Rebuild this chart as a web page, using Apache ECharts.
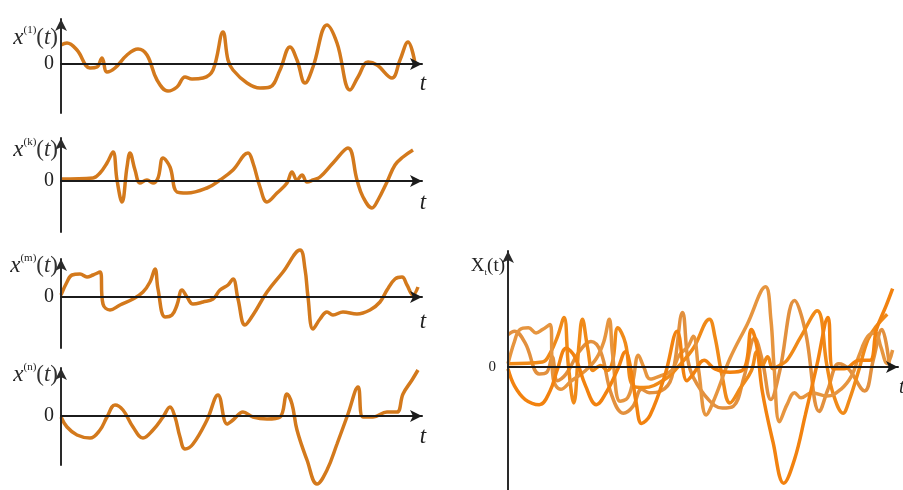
<!DOCTYPE html>
<html>
<head>
<meta charset="utf-8">
<script src="https://cdn.jsdelivr.net/npm/echarts@6/dist/echarts.min.js"></script>
<style>
html,body{margin:0;padding:0;background:#fff;}
#chart{width:903px;height:490px;}
</style>
</head>
<body>
<div id="chart"></div>
<script>
// ---- data (t = time, v = signal value) ----
const curve1T = [0,6,16,29,36,41,46,54,66,77,86,96,107,116,124,131,142,152,162,167,172,186,199,209,219,229,236,244,252,266,276,289,297,307,316,331,339,347,354];
const curve1V = [19,21,14,-4,-3,6,-8,-4,9,15,9,-16,-27,-23,-13,-15,-14,-6,32,4,-6,-19,-24,-23,-6,17,4,-19,-3,39,21,-26,-13,2,-1,-14,4,22,1];

const curve2T = [0,32,39,46,52,56,61,66,69,74,79,86,92,97,102,109,116,126,146,159,172,187,192,199,206,216,226,231,236,241,246,252,259,272,287,296,302,311,317,326,334,342,352];
const curve2V = [2,3,8,18,29,1,-21,14,28,11,-2,1,-2,3,23,14,-11,-12,-7,1,11,28,18,-6,-21,-12,-2,9,1,6,-1,1,4,18,33,1,-16,-27,-19,-1,16,24,31];

const curve3T = [0,6,11,19,26,32,39,42,49,59,72,82,89,94,97,104,111,116,121,126,132,142,152,159,167,172,177,184,192,206,222,239,244,247,252,259,266,272,282,296,309,319,326,334,341,346,352,357];
const curve3V = [2,15,22,23,20,22,25,-7,-13,-8,-2,5,15,28,8,-20,-18,-8,7,0,-7,-5,-2,7,12,18,-2,-28,-18,5,25,47,28,0,-32,-22,-15,-18,-15,-17,-13,-5,7,18,20,12,2,10];

const curve4T = [0,6,16,29,39,46,54,62,72,82,92,102,109,114,119,124,132,146,157,166,172,182,192,206,219,226,231,236,246,256,266,276,287,297,302,312,326,336,342,351,357];
const curve4V = [-1,-11,-19,-22,-14,-1,11,6,-11,-22,-14,-1,9,-1,-21,-33,-28,-4,21,-8,-4,4,-1,-3,-1,22,12,-14,-44,-68,-54,-28,2,29,-1,-1,4,4,22,36,46];

const panelSup = ['(1)', '(k)', '(m)', '(n)'];
const zeroLabel = '0';
const timeLabel = 't';
// --------------------------------------------

const curvesT = [curve1T, curve2T, curve3T, curve4T];
const curvesV = [curve1V, curve2V, curve3V, curve4V];
const pairs = (ts, vs) => ts.map((t, i) => [t, vs[i]]);

const serif = '"Liberation Serif", "DejaVu Serif", serif';
const axisColor = '#1b1b1b';

// left panel geometry
const leftPanels = [
  {top: 19,  height: 94, max: 45, min: -49, labelY: 38,  tY: 84},
  {top: 138, height: 94, max: 43, min: -51, labelY: 150, tY: 203},
  {top: 259, height: 89, max: 38, min: -51, labelY: 266, tY: 322},
  {top: 368, height: 97, max: 48, min: -49, labelY: 375, tY: 437}
];
const leftX = 61, leftW = 361, leftXMax = 361;

const grid = [], xAxis = [], yAxis = [], series = [], graphic = [];

function addAxes(idx, g, xmax, ymin, ymax, labelFont, labelMargin) {
  grid.push(g);
  xAxis.push({
    gridIndex: idx, type: 'value', min: 0, max: xmax, z: 5,
    axisLine: {show: true, onZero: true, symbol: ['none', 'arrow'], symbolSize: [9, 12],
               lineStyle: {color: axisColor, width: 2}},
    axisTick: {show: false}, axisLabel: {show: false}, splitLine: {show: false}
  });
  yAxis.push({
    gridIndex: idx, type: 'value', min: ymin, max: ymax, interval: 1, z: 5,
    axisLine: {show: true, onZero: false, symbol: ['none', 'arrow'], symbolSize: [9, 12],
               lineStyle: {color: '#2a2a2a', width: 2}},
    axisTick: {show: false}, splitLine: {show: false},
    axisLabel: {show: true, showMinLabel: false, showMaxLabel: false,
      formatter: v => (v === 0 ? zeroLabel : ''),
      fontFamily: serif, fontSize: labelFont, color: '#222', margin: labelMargin}
  });
}

leftPanels.forEach((p, i) => {
  addAxes(i, {left: leftX, top: p.top, width: leftW, height: p.height}, leftXMax, p.min, p.max, 20, 7);
  series.push({
    type: 'line', xAxisIndex: i, yAxisIndex: i,
    data: pairs(curvesT[i], curvesV[i]),
    smooth: 0.4, showSymbol: false, clip: false,
    lineStyle: {color: '#d3791c', width: 3.5}, z: 2
  });
  graphic.push({
    type: 'text', x: 58, y: p.labelY, z: 10,
    style: {
      text: '{x|x}{s|' + panelSup[i] + '}{p|(}{t|t}{p|)}',
      align: 'right', verticalAlign: 'middle',
      rich: {
        x: {fontFamily: serif, fontStyle: 'italic', fontSize: 23, lineHeight: 26, fill: '#222'},
        s: {fontFamily: serif, fontSize: 11, lineHeight: 12, verticalAlign: 'top', fill: '#222'},
        p: {fontFamily: serif, fontSize: 23, lineHeight: 26, fill: '#333'},
        t: {fontFamily: serif, fontStyle: 'italic', fontSize: 23, lineHeight: 26, fill: '#333'}
      }
    }
  });
  graphic.push({
    type: 'text', x: 423, y: p.tY, z: 10,
    style: {text: timeLabel, fontFamily: serif, fontStyle: 'italic', fontSize: 23,
            fill: '#222', align: 'center', verticalAlign: 'middle'}
  });
});

// right panel
const rIdx = 4;
addAxes(rIdx, {left: 508, top: 251, width: 390, height: 239}, 362, -72, 68, 15, 12);
const rightColors = ['#e2903e', '#f08a18', '#e6953f', '#f2820f'];
curvesT.forEach((ts, i) => {
  series.push({
    type: 'line', xAxisIndex: rIdx, yAxisIndex: rIdx,
    data: pairs(ts, curvesV[i]),
    smooth: 0.4, showSymbol: false, clip: false,
    lineStyle: {color: rightColors[i], width: 3.5}, z: 2
  });
});
graphic.push({
  type: 'text', x: 505, y: 266, z: 10,
  style: {
    text: '{X|X}{s|t}{p|(t)}',
    align: 'right', verticalAlign: 'middle',
    rich: {
      X: {fontFamily: serif, fontSize: 19, lineHeight: 22, fill: '#222'},
      s: {fontFamily: serif, fontSize: 9, lineHeight: 10, verticalAlign: 'bottom', fill: '#222'},
      p: {fontFamily: serif, fontSize: 19, lineHeight: 22, fill: '#222'}
    }
  }
});
graphic.push({
  type: 'text', x: 899, y: 388, z: 10,
  style: {text: timeLabel, fontFamily: serif, fontStyle: 'italic', fontSize: 20,
          fill: '#222', align: 'left', verticalAlign: 'middle'}
});

const chart = echarts.init(document.getElementById('chart'), null, {renderer: 'canvas'});
chart.setOption({
  backgroundColor: '#ffffff',
  animation: false,
  grid, xAxis, yAxis, series, graphic
});
</script>
</body>
</html>
